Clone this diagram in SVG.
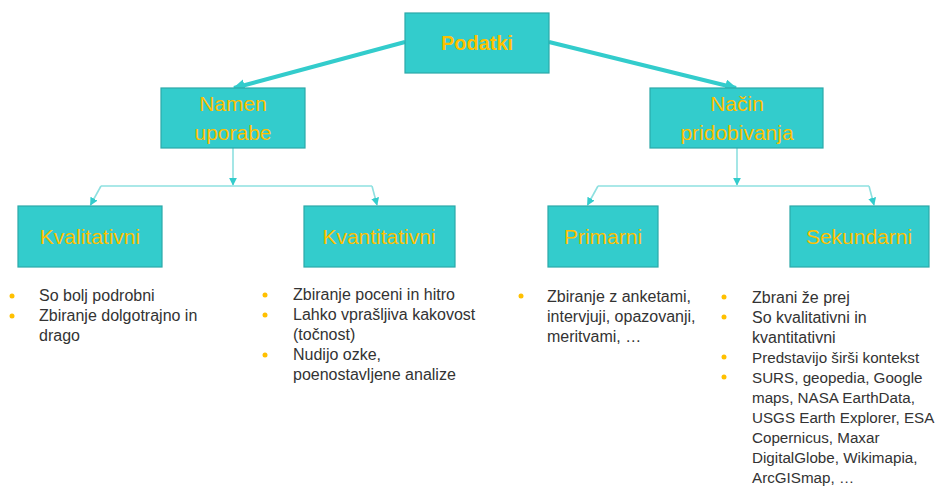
<svg xmlns="http://www.w3.org/2000/svg" width="941" height="486" viewBox="0 0 941 486">
<style>
.box{fill:#33CCCC;stroke:#2BA8A8;stroke-width:1.2}
.t{font-family:"Liberation Sans",Arial,sans-serif;fill:#FFC000;text-anchor:middle;font-size:21px}
.tb{font-weight:bold;font-size:20px}
.thick{stroke:#33CCCC;stroke-width:4;fill:none}
.thin{stroke:#8EE0E0;stroke-width:1.6;fill:none}
.b{font-family:"Liberation Sans",Arial,sans-serif;fill:#333333;font-size:16px}
.s{font-size:15.2px}
.dot{fill:#FFC000}
</style>
<defs>
<marker id="ah" viewBox="0 0 10 10" refX="9" refY="5" markerWidth="3" markerHeight="3" orient="auto" markerUnits="strokeWidth">
<path d="M0,0 L10,5 L0,10 z" fill="#33CCCC"/>
</marker>
<marker id="as" viewBox="0 0 10 10" refX="9" refY="5" markerWidth="5" markerHeight="5" orient="auto" markerUnits="strokeWidth">
<path d="M0,0 L10,5 L0,10 z" fill="#33CCCC"/>
</marker>
</defs>
<g id="connectors">
<line class="thick" x1="405" y1="42" x2="234" y2="88" marker-end="url(#ah)"/>
<line class="thick" x1="549" y1="42" x2="736" y2="88" marker-end="url(#ah)"/>
<line class="thin" x1="233" y1="148" x2="233" y2="185" marker-end="url(#as)"/>
<line class="thin" x1="101" y1="186" x2="372" y2="186"/>
<line class="thin" x1="101" y1="186" x2="90.5" y2="205" marker-end="url(#as)"/>
<line class="thin" x1="372" y1="186" x2="377" y2="205" marker-end="url(#as)"/>
<line class="thin" x1="737" y1="148" x2="737" y2="185" marker-end="url(#as)"/>
<line class="thin" x1="598" y1="186" x2="869" y2="186"/>
<line class="thin" x1="598" y1="186" x2="587.5" y2="205" marker-end="url(#as)"/>
<line class="thin" x1="869" y1="186" x2="874" y2="205" marker-end="url(#as)"/>
</g>
<g id="podatki">
<rect class="box" x="405" y="13" width="144" height="60"/>
<text class="t tb" x="477" y="50">Podatki</text>
</g>
<g id="namen">
<rect class="box" x="161" y="88" width="144" height="60"/>
<text class="t" x="233" y="111">Namen</text>
<text class="t" x="233" y="140">uporabe</text>
</g>
<g id="nacin">
<rect class="box" x="650" y="88" width="173" height="60"/>
<text class="t" x="737" y="111">Način</text>
<text class="t" x="737" y="140">pridobivanja</text>
</g>
<g id="kvalitativni">
<rect class="box" x="18" y="206" width="144" height="61"/>
<text class="t" x="90" y="244">Kvalitativni</text>
</g>
<g id="kvantitativni">
<rect class="box" x="304" y="206" width="151" height="61"/>
<text class="t" x="379" y="244">Kvantitativni</text>
</g>
<g id="primarni">
<rect class="box" x="548" y="206" width="110" height="61"/>
<text class="t" x="603" y="244">Primarni</text>
</g>
<g id="sekundarni">
<rect class="box" x="790" y="206" width="139" height="61"/>
<text class="t" x="859" y="244">Sekundarni</text>
</g>
<g id="kval-list">
<circle class="dot" cx="12" cy="296" r="2.5"/>
<circle class="dot" cx="12" cy="316" r="2.5"/>
<text class="b" x="39" y="301">So bolj podrobni</text>
<text class="b" x="39" y="321">Zbiranje dolgotrajno in</text>
<text class="b" x="39" y="341">drago</text>
</g>
<g id="kvant-list">
<circle class="dot" cx="265" cy="295" r="2.5"/>
<circle class="dot" cx="265" cy="315" r="2.5"/>
<circle class="dot" cx="265" cy="355" r="2.5"/>
<text class="b" x="293" y="300">Zbiranje poceni in hitro</text>
<text class="b" x="293" y="320">Lahko vprašljiva kakovost</text>
<text class="b" x="293" y="340">(točnost)</text>
<text class="b" x="293" y="360">Nudijo ozke,</text>
<text class="b" x="293" y="380">poenostavljene analize</text>
</g>
<g id="prim-list">
<circle class="dot" cx="521" cy="296" r="2.5"/>
<text class="b" x="547" y="302">Zbiranje z anketami,</text>
<text class="b" x="547" y="322">intervjuji, opazovanji,</text>
<text class="b" x="547" y="342">meritvami, …</text>
</g>
<g id="sek-list">
<circle class="dot" cx="724" cy="297" r="2.5"/>
<circle class="dot" cx="724" cy="317" r="2.5"/>
<circle class="dot" cx="724" cy="357" r="2.5"/>
<circle class="dot" cx="724" cy="377" r="2.5"/>
<text class="b" x="752" y="303">Zbrani že prej</text>
<text class="b" x="752" y="323">So kvalitativni in</text>
<text class="b" x="752" y="343">kvantitativni</text>
<text class="b s" x="752" y="363">Predstavijo širši kontekst</text>
<text class="b s" x="752" y="383">SURS, geopedia, Google</text>
<text class="b s" x="752" y="403">maps, NASA EarthData,</text>
<text class="b s" x="752" y="423">USGS Earth Explorer, ESA</text>
<text class="b s" x="752" y="443">Copernicus, Maxar</text>
<text class="b s" x="752" y="463">DigitalGlobe, Wikimapia,</text>
<text class="b s" x="752" y="483">ArcGISmap, …</text>
</g>
</svg>
